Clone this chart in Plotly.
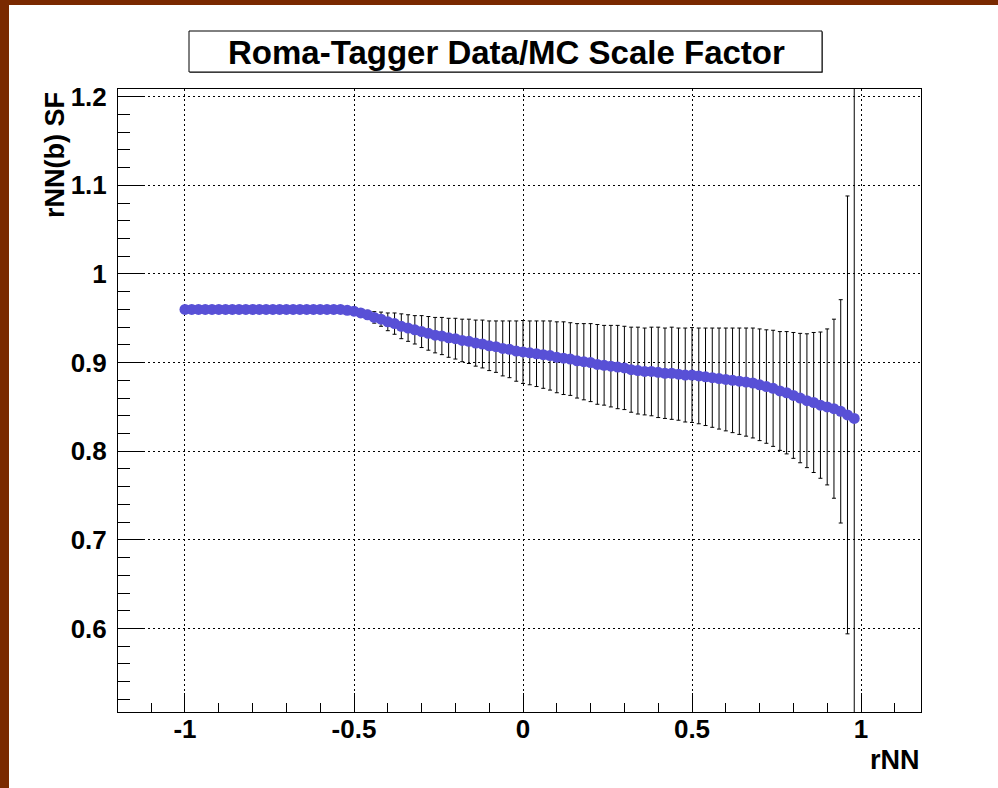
import plotly.graph_objects as go

# rNN bin centres
rnn = [
    -1.00, -0.98, -0.96, -0.94, -0.92, -0.90, -0.88, -0.86, -0.84, -0.82,
    -0.80, -0.78, -0.76, -0.74, -0.72, -0.70, -0.68, -0.66, -0.64, -0.62,
    -0.60, -0.58, -0.56, -0.54, -0.52, -0.50, -0.48, -0.46, -0.44, -0.42,
    -0.40, -0.38, -0.36, -0.34, -0.32, -0.30, -0.28, -0.26, -0.24, -0.22,
    -0.20, -0.18, -0.16, -0.14, -0.12, -0.10, -0.08, -0.06, -0.04, -0.02,
    0.00, 0.02, 0.04, 0.06, 0.08, 0.10, 0.12, 0.14, 0.16, 0.18,
    0.20, 0.22, 0.24, 0.26, 0.28, 0.30, 0.32, 0.34, 0.36, 0.38,
    0.40, 0.42, 0.44, 0.46, 0.48, 0.50, 0.52, 0.54, 0.56, 0.58,
    0.60, 0.62, 0.64, 0.66, 0.68, 0.70, 0.72, 0.74, 0.76, 0.78,
    0.80, 0.82, 0.84, 0.86, 0.88, 0.90, 0.92, 0.94, 0.96, 0.98,
]

# Data/MC scale factor for b jets
sf = [
    0.960, 0.960, 0.960, 0.960, 0.960, 0.960, 0.960, 0.960, 0.960, 0.960,
    0.960, 0.960, 0.960, 0.960, 0.960, 0.960, 0.960, 0.960, 0.960, 0.960,
    0.960, 0.960, 0.960, 0.960, 0.959, 0.958, 0.956, 0.954, 0.951, 0.949,
    0.946, 0.944, 0.941, 0.939, 0.937, 0.935, 0.933, 0.931, 0.930, 0.928,
    0.927, 0.925, 0.924, 0.922, 0.921, 0.919, 0.918, 0.916, 0.915, 0.913,
    0.912, 0.911, 0.910, 0.909, 0.908, 0.906, 0.905, 0.904, 0.902, 0.901,
    0.900, 0.898, 0.897, 0.896, 0.895, 0.894, 0.892, 0.891, 0.890, 0.890,
    0.889, 0.888, 0.888, 0.887, 0.886, 0.886, 0.885, 0.884, 0.883, 0.882,
    0.881, 0.880, 0.879, 0.878, 0.877, 0.875, 0.873, 0.871, 0.868, 0.866,
    0.863, 0.860, 0.857, 0.855, 0.852, 0.850, 0.848, 0.845, 0.841, 0.837,
]

# symmetric uncertainty on the scale factor
sf_err = [
    0.000, 0.000, 0.000, 0.000, 0.000, 0.000, 0.000, 0.000, 0.000, 0.000,
    0.000, 0.000, 0.000, 0.000, 0.000, 0.000, 0.000, 0.000, 0.000, 0.000,
    0.000, 0.000, 0.000, 0.000, 0.000, 0.001, 0.003, 0.005, 0.0065, 0.008,
    0.010, 0.012, 0.014, 0.015, 0.016, 0.018, 0.019, 0.020, 0.021, 0.022,
    0.023, 0.024, 0.025, 0.026, 0.027, 0.028, 0.029, 0.031, 0.032, 0.034,
    0.0355, 0.036, 0.037, 0.038, 0.039, 0.040, 0.041, 0.041, 0.042, 0.043,
    0.044, 0.045, 0.045, 0.046, 0.047, 0.047, 0.048, 0.049, 0.049, 0.050,
    0.051, 0.051, 0.052, 0.052, 0.053, 0.0535, 0.054, 0.055, 0.056, 0.057,
    0.058, 0.059, 0.060, 0.061, 0.062, 0.063, 0.064, 0.0655, 0.067, 0.069,
    0.071, 0.073, 0.0755, 0.079, 0.0825, 0.088, 0.101, 0.126, 0.247, 0.450,
]

x_tick_vals = [-1, -0.5, 0, 0.5, 1]
x_tick_text = ["-1", "-0.5", "0", "0.5", "1"]
y_tick_vals = [0.6, 0.7, 0.8, 0.9, 1.0, 1.1, 1.2]
y_tick_text = ["0.6", "0.7", "0.8", "0.9", "1", "1.1", "1.2"]

W, H = 998, 788
ML, MR, MT, MB = 118, 77, 89, 76
PW, PH = W - ML - MR, H - MT - MB


def px(xp):
    return (xp - ML) / PW


def py(yp):
    return (H - MB - yp) / PH


FONT = "Liberation Sans, Arial, Helvetica, sans-serif"
BROWN = "rgb(122,41,0)"

fig = go.Figure()
fig.add_trace(go.Scatter(
    x=rnn, y=sf, mode="markers",
    marker=dict(symbol="circle", size=11, color="rgb(88,80,214)", line=dict(width=0)),
    error_y=dict(type="data", array=sf_err, visible=True, color="black", thickness=1, width=2),
    showlegend=False,
))

shapes = [
    # canvas border strips
    dict(type="rect", xref="paper", yref="paper", x0=px(0), x1=px(9), y0=py(H), y1=py(0),
         fillcolor=BROWN, line=dict(width=0), layer="above"),
    dict(type="rect", xref="paper", yref="paper", x0=px(0), x1=px(W), y0=py(5), y1=py(0),
         fillcolor=BROWN, line=dict(width=0), layer="above"),
    # title pave with a light shadow
    dict(type="rect", xref="paper", yref="paper", x0=px(190), x1=px(823), y0=py(73), y1=py(32),
         fillcolor="rgb(120,120,120)", line=dict(width=0), layer="above"),
    dict(type="rect", xref="paper", yref="paper", x0=px(189), x1=px(822), y0=py(72), y1=py(31),
         fillcolor="white", line=dict(color="black", width=1), layer="above"),
]

annotations = [
    dict(text="Roma-Tagger Data/MC Scale Factor", xref="paper", yref="paper",
         x=px(506), y=py(52), xanchor="center", yanchor="middle", showarrow=False,
         font=dict(family=FONT, size=33, color="black", weight="bold")),
    dict(text="rNN(b) SF", xref="paper", yref="paper", textangle=-90,
         x=px(55), y=py(155), xanchor="center", yanchor="middle", showarrow=False,
         font=dict(family=FONT, size=27, color="black", weight="bold")),
    dict(text="rNN", xref="paper", yref="paper",
         x=px(922), y=py(760), xanchor="right", yanchor="middle", showarrow=False,
         font=dict(family=FONT, size=27, color="black", weight="bold")),
]

fig.update_layout(
    width=W, height=H,
    margin=dict(l=ML, r=MR, t=MT, b=MB, pad=0),
    paper_bgcolor="white", plot_bgcolor="white",
    shapes=shapes, annotations=annotations,
    xaxis=dict(
        range=[-1.1982, 1.1775], tickmode="array", tickvals=x_tick_vals, ticktext=x_tick_text,
        ticks="inside", ticklen=19, tickwidth=1, tickcolor="black",
        minor=dict(dtick=0.1, tick0=0, ticks="inside", ticklen=9, tickwidth=1,
                   tickcolor="black", showgrid=False),
        showline=True, linecolor="black", linewidth=1, mirror=True,
        showgrid=True, gridcolor="black", gridwidth=1, griddash="2px,3px",
        zeroline=False, ticklabelstandoff=-6,
        tickfont=dict(family=FONT, size=26, color="black", weight="bold"),
    ),
    yaxis=dict(
        range=[0.5058, 1.2087], tickmode="array", tickvals=y_tick_vals, ticktext=y_tick_text,
        ticks="inside", ticklen=25, tickwidth=1, tickcolor="black",
        minor=dict(dtick=0.02, tick0=0, ticks="inside", ticklen=12, tickwidth=1,
                   tickcolor="black", showgrid=False),
        showline=True, linecolor="black", linewidth=1, mirror=True,
        showgrid=True, gridcolor="black", gridwidth=1, griddash="2px,3px",
        zeroline=False, ticklabelstandoff=5,
        tickfont=dict(family=FONT, size=26, color="black", weight="bold"),
    ),
)

fig.write_html("out.html")
